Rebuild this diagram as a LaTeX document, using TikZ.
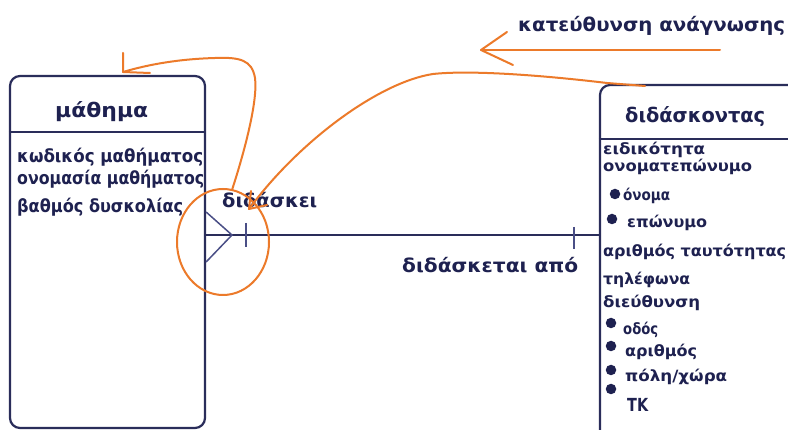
\documentclass[tikz,border=0pt]{standalone}
\usepackage{fontspec}
\setmainfont{DejaVu Sans}
\usepackage{graphicx}
\definecolor{ink}{HTML}{1E2150}
\definecolor{frame}{HTML}{2A2D5A}
\definecolor{foot}{HTML}{4A4F86}
\definecolor{marker}{HTML}{EC7A2A}
% set a text to a given width, keeping its height
\newcommand{\fitto}[2]{\resizebox{#1pt}{\height}{#2}}
\tikzset{
  txt/.style={inner sep=0pt, anchor=base west, text=ink},
  boxtitle/.style={txt, font=\fontsize{20}{20}\selectfont\bfseries},
  lattr/.style={txt, font=\fontsize{18}{18}\selectfont\bfseries},
  rattr/.style={txt, font=\fontsize{15.5}{15.5}\selectfont\bfseries},
  rellabel/.style={txt, font=\fontsize{19}{19}\selectfont\bfseries},
  heading/.style={txt, font=\fontsize{19}{19}\selectfont\bfseries},
  entity/.style={draw=frame, line width=2.2pt, rounded corners=10pt, inner sep=0pt},
  bullet/.style={circle, fill=ink, inner sep=0pt, minimum size=10.5pt},
  rule/.style={draw=frame, line width=2pt},
  marked/.style={draw=marker, line width=2pt, line cap=round, line join=round},
}
\begin{document}
\begin{tikzpicture}[x=1pt, y=-1pt]
\useasboundingbox (0,0) rectangle (788,430);
\clip (0,0) rectangle (788,430);
\fill[white] (0,0) rectangle (788,430);

% entities
\node[entity, minimum width=195pt, minimum height=352pt] (mathima) at (107.5,252) {};
\node[entity, minimum width=200pt, minimum height=360pt] (didaskontas) at (700,265) {};

% header separators
\draw[rule] (mathima.west |- 0,132) -- (mathima.east |- 0,132);
\draw[rule] (didaskontas.west |- 0,139) -- (didaskontas.east |- 0,139);

% left entity texts
\node[boxtitle] (tM) at (55,118) {\fitto{93}{μάθημα}};
\node[lattr] (a1) at (17,163) {\fitto{186}{κωδικός μαθήματος}};
\node[lattr] (a2) at (17,185) {\fitto{187}{ονομασία μαθήματος}};
\node[lattr] (a3) at (17,213) {\fitto{166}{βαθμός δυσκολίας}};

% right entity texts
\node[boxtitle] (tD) at (625,123) {\fitto{140}{διδάσκοντας}};
\node[rattr] (b1) at (603,155) {\fitto{102}{ειδικότητα}};
\node[rattr] (b2) at (603,172) {\fitto{149}{ονοματεπώνυμο}};
\node[rattr] (b3) at (623,201) {\fitto{47}{όνομα}};
\node[rattr] (b4) at (627,228) {\fitto{80}{επώνυμο}};
\node[rattr] (b5) at (603,257) {\fitto{183}{αριθμός ταυτότητας}};
\node[rattr] (b6) at (603,285) {\fitto{87}{τηλέφωνα}};
\node[rattr] (b7) at (603,308) {\fitto{97}{διεύθυνση}};
\node[rattr] (b8) at (623,335) {\fitto{35}{οδός}};
\node[rattr] (b9) at (625,357) {\fitto{72}{αριθμός}};
\node[rattr] (b10) at (625,382) {\fitto{102}{πόλη/χώρα}};
\node[rattr, font=\fontsize{18}{18}\selectfont\bfseries] (b11) at (627,412) {\fitto{21}{ΤΚ}};

% bullets
\node[bullet] (p1) at (615,194) {};
\node[bullet] (p2) at (612,219) {};
\node[bullet] (p3) at (611,323) {};
\node[bullet] (p4) at (611,346) {};
\node[bullet] (p5) at (611,370) {};
\node[bullet] (p6) at (611,389) {};

% relationship
\draw[rule] (mathima.east |- 0,235) -- (didaskontas.west |- 0,235);
\coordinate (cfT) at (232,235);
\draw[draw=foot, line width=1.5pt] (mathima.east |- 0,212) -- (cfT) -- (mathima.east |- 0,262);
\draw[draw=foot, line width=1.8pt] (246,223) -- (246,247);
\draw[draw=foot, line width=1.8pt] (574,227) -- (574,249);
\node[rellabel] (r1) at (222,208) {\fitto{95}{διδάσκει}};
\node[rellabel] (r2) at (402,273) {\fitto{176}{διδάσκεται από}};

% reading direction
\node[heading] (hd) at (518,32) {\fitto{267}{κατεύθυνση ανάγνωσης}};
\coordinate (rdS) at (720,50);
\coordinate (rdT) at (481,50);
\draw[marked] (rdS) -- (rdT);
\draw[marked] (507,32) -- (rdT) -- (513,65);

% annotation strokes
\coordinate (cStart) at (645,86);
\coordinate (cTip) at (249,209);
\draw[marked] (cStart) -- (607,83) .. controls (540,75) and (470,70) .. (433,74)
  .. controls (380,82) and (300,140) .. (cTip);
\draw[marked] (251,191) -- (cTip) -- (267,205);

\coordinate (dStart) at (232,190);
\coordinate (dTip) at (123,72);
\draw[marked] (dStart) .. controls (245,150) and (258,100) .. (255,78)
  .. controls (252,60) and (240,57) .. (215,58)
  .. controls (180,59) and (150,64) .. (dTip);
\draw[marked] (123,53) -- (dTip) -- (150,73);

\draw[marked] (223,242) ellipse [x radius=46, y radius=53];
\end{tikzpicture}
\end{document}
